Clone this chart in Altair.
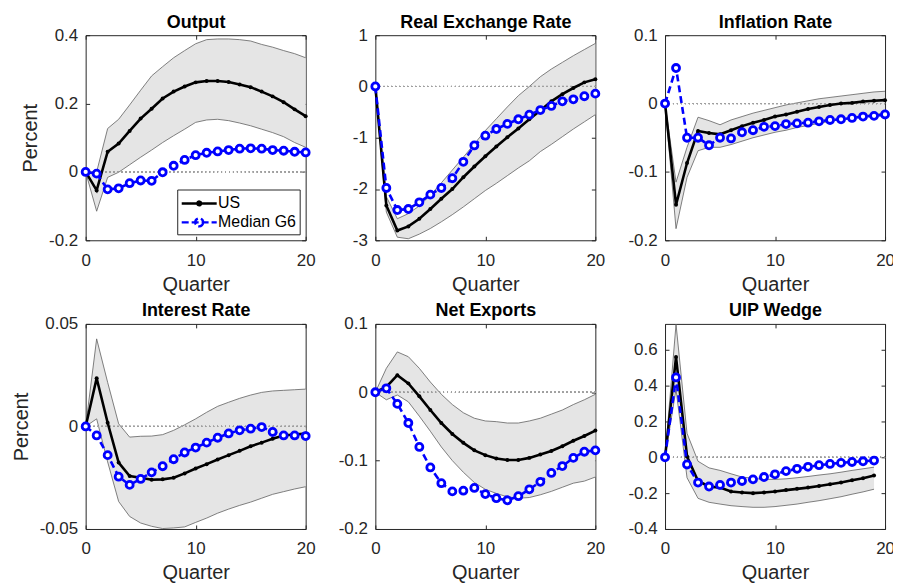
import altair as alt
import pandas as pd

quarters = list(range(21))

# ---------- Output ----------
output_us = [0, -0.054, 0.059, 0.083, 0.12, 0.156, 0.185, 0.215, 0.235, 0.25, 0.262,
             0.266, 0.266, 0.263, 0.256, 0.248, 0.235, 0.221, 0.204, 0.183, 0.163]
output_g6 = [0, -0.005, -0.051, -0.048, -0.033, -0.025, -0.026, -0.001, 0.018, 0.035, 0.049,
             0.056, 0.06, 0.064, 0.068, 0.069, 0.068, 0.064, 0.062, 0.059, 0.057]
output_hi = [0, 0.0, 0.127, 0.154, 0.196, 0.239, 0.281, 0.308, 0.334, 0.355, 0.375,
             0.387, 0.389, 0.389, 0.387, 0.383, 0.373, 0.365, 0.355, 0.346, 0.334]
output_lo = [0, -0.115, -0.016, -0.001, 0.021, 0.043, 0.064, 0.086, 0.106, 0.125, 0.145,
             0.152, 0.154, 0.15, 0.143, 0.135, 0.125, 0.115, 0.103, 0.086, 0.072]

# ---------- Real Exchange Rate ----------
rer_us = [0, -2.32, -2.81, -2.73, -2.58, -2.39, -2.19, -2.0, -1.77, -1.56, -1.36,
          -1.17, -0.99, -0.82, -0.64, -0.47, -0.29, -0.15, -0.03, 0.08, 0.14]
rer_g6 = [0, -1.98, -2.41, -2.39, -2.26, -2.11, -1.98, -1.79, -1.47, -1.15, -0.96,
          -0.83, -0.73, -0.64, -0.55, -0.46, -0.38, -0.29, -0.25, -0.19, -0.14]
rer_hi = [0, -2.15, -2.58, -2.48, -2.33, -2.12, -1.88, -1.63, -1.38, -1.12, -0.86,
          -0.63, -0.40, -0.18, 0.0, 0.19, 0.34, 0.47, 0.6, 0.72, 0.84]
rer_lo = [0, -2.45, -2.94, -2.97, -2.88, -2.77, -2.64, -2.5, -2.35, -2.19, -2.03,
          -1.89, -1.74, -1.59, -1.45, -1.27, -1.13, -0.98, -0.83, -0.69, -0.55]

# ---------- Inflation Rate ----------
inf_us = [0, -0.148, -0.087, -0.04, -0.043, -0.045, -0.039, -0.033, -0.028, -0.024, -0.019,
          -0.016, -0.012, -0.008, -0.005, -0.002, 0.0, 0.001, 0.003, 0.004, 0.005]
inf_g6 = [0, 0.052, -0.05, -0.05, -0.061, -0.05, -0.051, -0.042, -0.039, -0.034, -0.033,
          -0.03, -0.029, -0.028, -0.026, -0.024, -0.023, -0.021, -0.019, -0.018, -0.016]
inf_hi = [0, -0.115, -0.064, -0.02, -0.025, -0.031, -0.024, -0.019, -0.014, -0.010, -0.006,
          -0.002, 0.001, 0.004, 0.007, 0.009, 0.011, 0.013, 0.015, 0.017, 0.018]
inf_lo = [0, -0.183, -0.108, -0.069, -0.064, -0.064, -0.06, -0.055, -0.05, -0.046, -0.042,
          -0.039, -0.035, -0.032, -0.029, -0.026, -0.023, -0.021, -0.018, -0.016, -0.014]

# ---------- Interest Rate ----------
int_us = [0, 0.0235, 0.0018, -0.0176, -0.0242, -0.025, -0.026, -0.0258, -0.025, -0.0229, -0.0205,
          -0.0184, -0.0161, -0.014, -0.0119, -0.0097, -0.0079, -0.006, -0.0044, -0.0039, -0.0035]
int_g6 = [0, -0.0044, -0.014, -0.0245, -0.0285, -0.0256, -0.0224, -0.0194, -0.016, -0.0127, -0.0103,
          -0.0079, -0.0055, -0.0034, -0.0019, -0.0011, -0.0003, -0.0027, -0.0044, -0.0044, -0.0047]
int_hi = [0, 0.0427, 0.0215, 0.0013, -0.0052, -0.0048, -0.0047, -0.004, -0.0019, 0.0008, 0.0037,
          0.0069, 0.0098, 0.0118, 0.0137, 0.0153, 0.0166, 0.0173, 0.0176, 0.0179, 0.0182]
int_lo = [0, 0.0037, -0.0173, -0.0366, -0.0439, -0.0471, -0.0487, -0.0498, -0.0495, -0.049, -0.0468,
          -0.0447, -0.0423, -0.0403, -0.0385, -0.0369, -0.035, -0.0331, -0.0318, -0.0305, -0.0294]

# ---------- Net Exports ----------
nx_us = [0, 0.0077, 0.025, 0.013, -0.006, -0.026, -0.045, -0.061, -0.074, -0.085, -0.092,
         -0.097, -0.099, -0.099, -0.096, -0.091, -0.086, -0.079, -0.071, -0.064, -0.056]
nx_g6 = [0, 0.0058, -0.017, -0.045, -0.08, -0.11, -0.133, -0.145, -0.144, -0.14, -0.149,
         -0.155, -0.158, -0.152, -0.142, -0.131, -0.118, -0.108, -0.096, -0.087, -0.085]
nx_hi = [0, 0.035, 0.059, 0.052, 0.035, 0.015, -0.003, -0.018, -0.030, -0.038, -0.042,
         -0.043, -0.045, -0.045, -0.042, -0.038, -0.032, -0.026, -0.018, -0.011, -0.003]
nx_lo = [0, -0.011, -0.004, -0.014, -0.035, -0.057, -0.08, -0.1, -0.117, -0.132, -0.142,
         -0.148, -0.153, -0.155, -0.154, -0.15, -0.145, -0.139, -0.133, -0.13, -0.124]

# ---------- UIP Wedge (quarters 0..19) ----------
uip_us = [0, 0.56, 0.005, -0.132, -0.163, -0.169, -0.191, -0.196, -0.2, -0.196, -0.191,
          -0.183, -0.176, -0.169, -0.16, -0.15, -0.141, -0.128, -0.117, -0.101]
uip_g6 = [0, 0.446, -0.04, -0.141, -0.163, -0.154, -0.141, -0.132, -0.123, -0.11, -0.095,
          -0.077, -0.064, -0.053, -0.044, -0.037, -0.031, -0.026, -0.022, -0.018]
uip_hi = [0, 0.743, 0.134, -0.022, -0.059, -0.073, -0.092, -0.11, -0.117, -0.123, -0.123,
          -0.12, -0.114, -0.107, -0.099, -0.092, -0.083, -0.073, -0.064, -0.055]
uip_lo = [0, 0.38, -0.114, -0.229, -0.251, -0.261, -0.27, -0.275, -0.279, -0.279, -0.275,
          -0.268, -0.261, -0.251, -0.242, -0.231, -0.22, -0.206, -0.193, -0.178]

titles = ["Output", "Real Exchange Rate", "Inflation Rate", "Interest Rate", "Net Exports", "UIP Wedge"]
y_domains = [[-0.2, 0.4], [-3, 1], [-0.2, 0.1], [-0.05, 0.05], [-0.2, 0.1], [-0.4, 0.745]]
y_ticks = [[-0.2, 0, 0.2, 0.4], [-3, -2, -1, 0, 1], [-0.2, -0.1, 0, 0.1],
           [-0.05, 0, 0.05], [-0.2, -0.1, 0, 0.1], [-0.4, -0.2, 0, 0.2, 0.4, 0.6]]
x_ticks = [0, 10, 20]
series_names = ["US", "Median G6"]

series = [
    (output_us, output_g6, output_lo, output_hi),
    (rer_us, rer_g6, rer_lo, rer_hi),
    (inf_us, inf_g6, inf_lo, inf_hi),
    (int_us, int_g6, int_lo, int_hi),
    (nx_us, nx_g6, nx_lo, nx_hi),
    (uip_us, uip_g6, uip_lo, uip_hi),
]

BLUE = "#0000ff"
AX = "#262626"
W, H = 221, 206


def tick_axis(orient, offset, values):
    # tick-only axis drawn on the opposite edge so its ticks point into the plot
    return alt.Axis(orient=orient, offset=offset, values=values, labels=False, ticks=True,
                    tickSize=4, tickColor=AX, tickWidth=1, domain=False, title=None, grid=False)


def panel(i):
    us, g6, lo, hi = series[i]
    n = len(us)
    df = pd.DataFrame({"q": quarters[:n], "us": us, "g6": g6, "lo": lo, "hi": hi})
    xscale = alt.Scale(domain=[0, 20], nice=False)
    yscale = alt.Scale(domain=y_domains[i], nice=False, zero=False)
    x_bottom = alt.X("q:Q", scale=xscale,
                     axis=alt.Axis(values=x_ticks, title="Quarter", format="d", labelFlush=False))
    x_top = alt.X("q:Q", scale=xscale,
                  axis=alt.Axis(orient="top", title=titles[i], labels=False, ticks=False, domain=False,
                                titleFontSize=18, titleFontWeight="bold", titleColor="black",
                                titlePadding=4))
    x_none = alt.X("q:Q", axis=None)
    y_main = alt.Y("lo:Q", scale=yscale,
                   axis=alt.Axis(values=y_ticks[i], labelExpr="'' + datum.value",
                                 title="Percent" if i % 3 == 0 else None))
    base = alt.Chart(df)
    band = base.mark_area(color="#e5e5e5", opacity=1).encode(x=x_bottom, y=y_main, y2="hi:Q")
    edges = base.transform_fold(["lo", "hi"], as_=["edge", "val"]).mark_line(
        color="#606060", strokeWidth=0.8).encode(
        x=x_top, y=alt.Y("val:Q", axis=None), detail="edge:N")
    zero = alt.Chart(df).mark_rule(color="#a0a0a0", strokeDash=[1, 3], strokeWidth=1).encode(
        y=alt.YDatum(0, axis=None))
    us_line = base.mark_line(color="black", strokeWidth=2.6).encode(
        x=alt.X("q:Q", axis=tick_axis("top", -H, x_ticks)), y=alt.Y("us:Q", axis=None))
    us_pts = base.mark_point(filled=True, color="black", size=16, opacity=1).encode(
        x=alt.X("q:Q", axis=tick_axis("bottom", -H, x_ticks)), y=alt.Y("us:Q", axis=None))
    g6_line = base.mark_line(color=BLUE, strokeWidth=2.6, strokeDash=[7, 4]).encode(
        x=x_none, y=alt.Y("g6:Q", axis=tick_axis("right", -W, y_ticks[i])))
    g6_pts = base.mark_point(shape="circle", filled=True, fill="white", stroke=BLUE,
                             strokeWidth=2.8, size=50, opacity=1).encode(
        x=x_none, y=alt.Y("g6:Q", axis=tick_axis("left", -W, y_ticks[i])))
    layers = [band, edges, zero, us_line, us_pts, g6_line, g6_pts]
    if i == 0:
        leg = alt.Legend(title=None, orient="none", legendX=92, legendY=155,
                         strokeColor=AX, fillColor="white", padding=3,
                         labelFontSize=16, labelColor="black", symbolSize=361,
                         symbolStrokeWidth=2.4, symbolOpacity=1, rowPadding=0,
                         labelOffset=16)
        ldf = pd.DataFrame({"series": series_names, "q": [0, 0], "v": [0, 0]})
        dom = series_names
        legend_layer = alt.Chart(ldf).mark_point(opacity=0, size=361, strokeWidth=2.4).encode(
            x=x_none, y=alt.Y("v:Q", axis=None),
            color=alt.Color("series:N", scale=alt.Scale(domain=dom, range=["black", BLUE]), legend=leg),
            fill=alt.Fill("series:N", scale=alt.Scale(domain=dom, range=["black", "white"]), legend=leg),
            shape=alt.Shape("series:N", scale=alt.Scale(domain=dom, range=[
                "M-1,0L2.7,0M1.05,0A0.2,0.2,0,1,1,0.65,0A0.2,0.2,0,1,1,1.05,0Z",
                "M-1,0L2.7,0M1.27,0A0.42,0.42,0,1,1,0.43,0A0.42,0.42,0,1,1,1.27,0Z"]), legend=leg),
            strokeDash=alt.StrokeDash("series:N", scale=alt.Scale(domain=dom, range=[[1, 0], [7, 3]]),
                                      legend=leg),
        )
        layers.append(legend_layer)
    return alt.layer(*layers).resolve_axis(x="independent", y="independent").properties(width=W, height=H)


chart = alt.ConcatChart(
    concat=[panel(i) for i in range(6)],
    columns=3,
    spacing={"row": 84, "column": 70},
    bounds="flush",
).resolve_legend(
    color="independent", fill="independent", shape="independent", strokeDash="independent"
).configure(
    font="Liberation Sans",
    padding={"left": 2, "top": 3, "right": -2, "bottom": 10},
).configure_view(
    stroke=AX, strokeWidth=1
).configure_axis(
    grid=False, ticks=False, domain=False,
    labelFontSize=17, labelColor=AX, labelPadding=8,
    titleFontSize=20, titleColor=AX, titleFontWeight="normal",
).configure_axisX(
    labelPadding=12, titlePadding=6
).configure_axisY(
    titlePadding=8
)

chart.save("out.html", embed_options={"renderer": "svg", "actions": False})
